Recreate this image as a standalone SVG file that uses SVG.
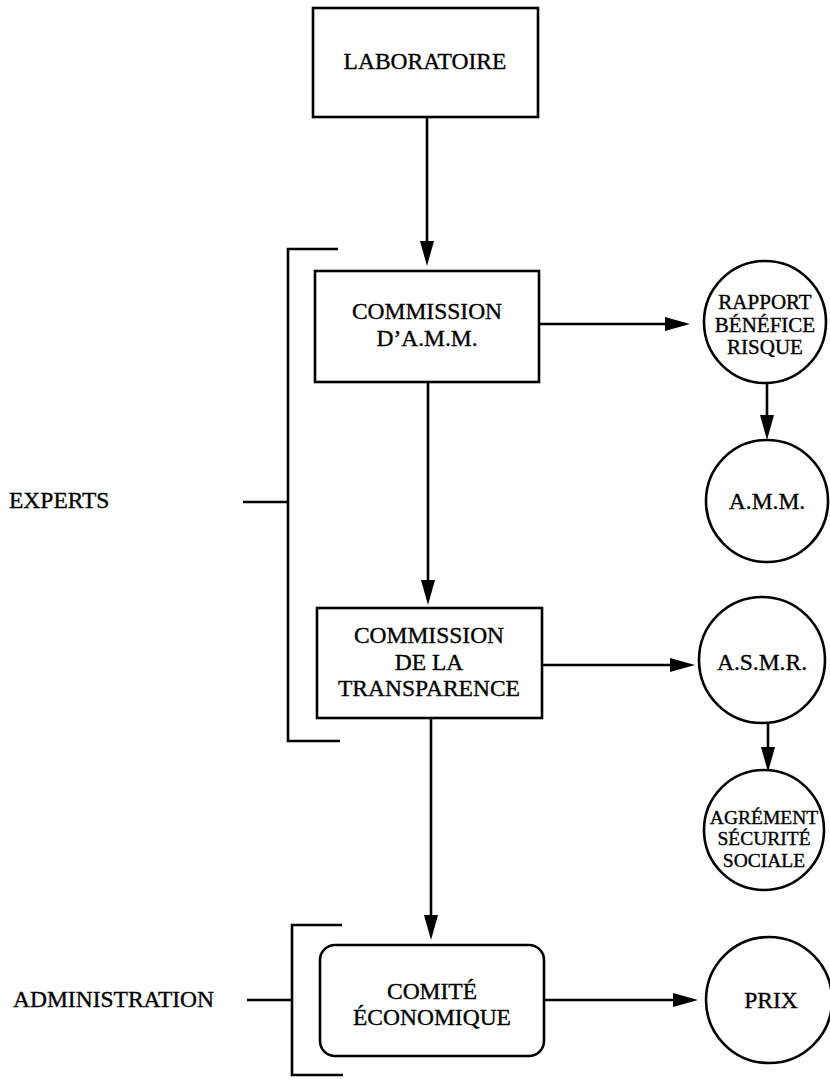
<svg xmlns="http://www.w3.org/2000/svg" width="830" height="1079" viewBox="0 0 830 1079">
<style>
.box{fill:#fff;stroke:#000;stroke-width:2.6}
.ln{fill:none;stroke:#000;stroke-width:2.6}
text{font-family:"Liberation Serif","Times New Roman",serif;fill:#000;stroke:#000;stroke-width:0.35;text-anchor:middle}
.t{font-size:23.5px}
.s{font-size:21px}
.u{font-size:19.5px}
.l{text-anchor:start;font-size:23.5px}
</style>
<defs>
<marker id="ah" markerUnits="userSpaceOnUse" markerWidth="26" markerHeight="16" refX="15" refY="7" orient="auto" overflow="visible">
<path d="M0,0 L25,7 L0,14 z" fill="#000"/>
</marker>
</defs>
<rect width="830" height="1079" fill="#fff"/>
<g id="connectors">
<line class="ln" x1="427" y1="117" x2="427" y2="256" marker-end="url(#ah)"/>
<line class="ln" x1="539" y1="324" x2="680" y2="324" marker-end="url(#ah)"/>
<line class="ln" x1="767" y1="383" x2="767" y2="430" marker-end="url(#ah)"/>
<line class="ln" x1="428" y1="382" x2="428" y2="595" marker-end="url(#ah)"/>
<line class="ln" x1="542" y1="665" x2="685" y2="665" marker-end="url(#ah)"/>
<line class="ln" x1="768" y1="723" x2="768" y2="762" marker-end="url(#ah)"/>
<line class="ln" x1="431" y1="718" x2="431" y2="930" marker-end="url(#ah)"/>
<line class="ln" x1="544" y1="1000" x2="688" y2="1000" marker-end="url(#ah)"/>
</g>
<g id="experts">
<path class="ln" d="M338,249 H288 V741 H340 M243,502 H288"/>
<text class="l" x="9" y="508">EXPERTS</text>
</g>
<g id="administration">
<path class="ln" d="M342,925 H292 V1075 H343 M247,1000 H292"/>
<text class="l" x="13" y="1007">ADMINISTRATION</text>
</g>
<g id="laboratoire">
<rect class="box" x="313" y="8" width="225" height="109"/>
<text class="t" x="425" y="69">LABORATOIRE</text>
</g>
<g id="commission-amm">
<rect class="box" x="315" y="271" width="224" height="111"/>
<text class="t" x="427" y="319">COMMISSION</text>
<text class="t" x="427" y="346">D’A.M.M.</text>
</g>
<g id="rapport">
<circle class="box" cx="765" cy="322" r="61"/>
<text class="s" x="765" y="309">RAPPORT</text>
<text class="s" x="765" y="332">BÉNÉFICE</text>
<text class="s" x="765" y="354">RISQUE</text>
</g>
<g id="amm">
<circle class="box" cx="767" cy="501" r="61"/>
<text class="t" x="767" y="509">A.M.M.</text>
</g>
<g id="commission-transparence">
<rect class="box" x="317" y="608" width="225" height="110"/>
<text class="t" x="429" y="643">COMMISSION</text>
<text class="t" x="429" y="670">DE LA</text>
<text class="t" x="429" y="696">TRANSPARENCE</text>
</g>
<g id="asmr">
<circle class="box" cx="762" cy="660" r="63"/>
<text class="t" x="762" y="670">A.S.M.R.</text>
</g>
<g id="agrement">
<circle class="box" cx="764" cy="830" r="60"/>
<text class="u" x="764" y="824">AGRÉMENT</text>
<text class="u" x="764" y="845">SÉCURITÉ</text>
<text class="u" x="764" y="867">SOCIALE</text>
</g>
<g id="comite">
<rect class="box" x="320" y="945" width="224" height="111" rx="15"/>
<text class="t" x="432" y="999">COMITÉ</text>
<text class="t" x="432" y="1025">ÉCONOMIQUE</text>
</g>
<g id="prix">
<circle class="box" cx="769" cy="1000" r="63"/>
<text class="t" x="771" y="1008">PRIX</text>
</g>
</svg>
